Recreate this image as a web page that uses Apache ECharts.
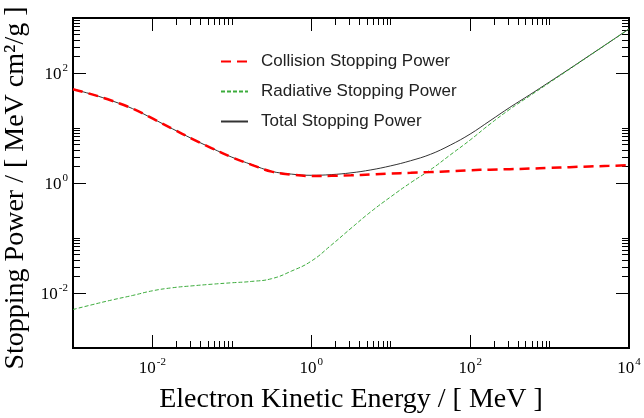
<!DOCTYPE html>
<html><head><meta charset="utf-8">
<script src="https://cdn.jsdelivr.net/npm/echarts@6/dist/echarts.min.js"></script>
<style>html,body{margin:0;padding:0;background:#fff}#c{width:644px;height:418px}</style>
</head><body><div id="c"></div>
<script>
const energy = [0.001, 0.00178, 0.00316, 0.00562, 0.01, 0.0178, 0.0316, 0.0562, 0.1, 0.178, 0.316, 0.562,
  1, 1.78, 3.16, 5.62, 10, 17.8, 31.6, 56.2, 100, 178, 316, 562, 1000, 1780, 3160, 5620, 10000];
const collision = [50.8, 40.5, 30.9, 22.5, 14.9, 9.68, 6.37, 4.27, 2.93, 2.14, 1.61, 1.42,
  1.34, 1.35, 1.38, 1.43, 1.49, 1.53, 1.58, 1.64, 1.71, 1.75, 1.78, 1.83, 1.88, 1.94, 2.00, 2.05, 2.10];
const radiative = [0.00501, 0.00617, 0.00752, 0.00902, 0.01096, 0.01245, 0.01349, 0.01445, 0.01535, 0.01625, 0.01820, 0.02500,
  0.038, 0.074, 0.150, 0.30, 0.56, 1.01, 1.74, 3.24, 6.05, 11.8, 21.9, 38.3, 67, 117, 205, 359, 631];
const total = [50.8, 40.5, 30.9, 22.5, 14.9, 9.69, 6.38, 4.28, 2.95, 2.16, 1.63, 1.45,
  1.38, 1.42, 1.53, 1.73, 2.05, 2.54, 3.32, 4.88, 7.76, 13.55, 23.7, 40.1, 68.9, 119, 207, 361, 633];
const xMajorTicks = [0.01, 1, 100, 10000];
const yMajorTicks = [0.01, 1, 100];
const xMinorTicks = [0.02,0.03,0.04,0.05,0.06,0.07,0.08,0.09,0.1, 2,3,4,5,6,7,8,9,10, 200,300,400,500,600,700,800,900,1000];
const yMinorTicks = [0.02,0.03,0.04,0.05,0.06,0.07,0.08,0.09,0.1, 2,3,4,5,6,7,8,9,10, 200,300,400,500,600,700,800,900,1000];
const seriesNames = ['Collision Stopping Power', 'Radiative Stopping Power', 'Total Stopping Power'];

const serif = '"Liberation Serif", "Times New Roman", serif';
const supFmt = v => '{b|10}{s|' + Math.round(Math.log10(v)) + '}';
const labelRich = {
  b: {fontFamily: serif, fontSize: 17, color: '#000', verticalAlign: 'bottom', lineHeight: 20},
  s: {fontFamily: serif, fontSize: 11, color: '#000', verticalAlign: 'top', lineHeight: 20, padding: [0,0,0,1]}
};
const tickStyle = {color: '#000', width: 1};

function xAx(pos, ticks, len, showLabel, extra) {
  return Object.assign({
    type: 'log', logBase: 10, min: 0.001, max: 10000, position: pos,
    axisLine: {show: false}, splitLine: {show: false},
    axisTick: {show: true, inside: true, length: len, customValues: ticks, lineStyle: tickStyle},
    axisLabel: showLabel ? {show: true, customValues: ticks, formatter: supFmt, rich: labelRich, margin: 9} : {show: false}
  }, extra || {});
}
function yAx(pos, ticks, len, showLabel, extra) {
  return Object.assign({
    type: 'log', logBase: 10, min: 0.001, max: 1000, position: pos,
    axisLine: {show: false}, splitLine: {show: false},
    axisTick: {show: true, inside: true, length: len, customValues: ticks, lineStyle: tickStyle},
    axisLabel: showLabel ? {show: true, customValues: ticks, formatter: supFmt, rich: labelRich, margin: 5} : {show: false}
  }, extra || {});
}

const chart = echarts.init(document.getElementById('c'), null, {renderer: 'canvas'});
chart.setOption({
  animation: false,
  backgroundColor: '#fff',
  grid: {left: 73, right: 15, top: 18, bottom: 70, show: true, borderColor: '#000', borderWidth: 2,
         backgroundColor: 'transparent', containLabel: false, outerBoundsMode: 'none'},
  legend: {
    orient: 'vertical', left: 220, top: 53, padding: 0, itemGap: 13, itemWidth: 27, itemHeight: 16,
    data: seriesNames,
    itemStyle: {opacity: 0, borderWidth: 0},
    textStyle: {fontFamily: '"Liberation Sans", Arial, sans-serif', fontSize: 17, color: '#222', padding: [0,0,0,8]}
  },
  xAxis: [
    xAx('bottom', xMajorTicks, 13, true, {
      name: 'Electron Kinetic Energy / [ MeV ]', nameLocation: 'middle', nameGap: 38,
      nameTextStyle: {fontFamily: serif, fontSize: 28, color: '#000'}
    }),
    xAx('bottom', xMinorTicks, 7, false),
    xAx('top', xMajorTicks, 13, false),
    xAx('top', xMinorTicks, 7, false)
  ],
  yAxis: [
    yAx('left', yMajorTicks, 13, true, {
      name: 'Stopping Power / [ MeV cm\u00B2/g ]', nameLocation: 'middle', nameGap: 33,
      nameTextStyle: {fontFamily: serif, fontSize: 28, color: '#000', padding: [0, 10, 0, 0]}
    }),
    yAx('left', yMinorTicks, 7, false),
    yAx('right', yMajorTicks, 13, false),
    yAx('right', yMinorTicks, 7, false)
  ],
  series: [
    {name: seriesNames[0], type: 'line', symbol: 'none', smooth: 0.4, z: 5,
     data: energy.map((e, i) => [e, collision[i]]),
     lineStyle: {color: '#ff0000', width: 2.5, type: [10, 6]}, itemStyle: {color: '#ff0000'}},
    {name: seriesNames[1], type: 'line', symbol: 'none', smooth: 0.5, z: 4,
     data: energy.map((e, i) => [e, radiative[i]]),
     lineStyle: {color: '#3cac3c', width: 1, type: [4, 2]}, itemStyle: {color: '#3cac3c'}},
    {name: seriesNames[2], type: 'line', symbol: 'none', smooth: 0.4, z: 3,
     data: energy.map((e, i) => [e, total[i]]),
     lineStyle: {color: '#333333', width: 1}, itemStyle: {color: '#333333'}}
  ]
});
</script></body></html>
